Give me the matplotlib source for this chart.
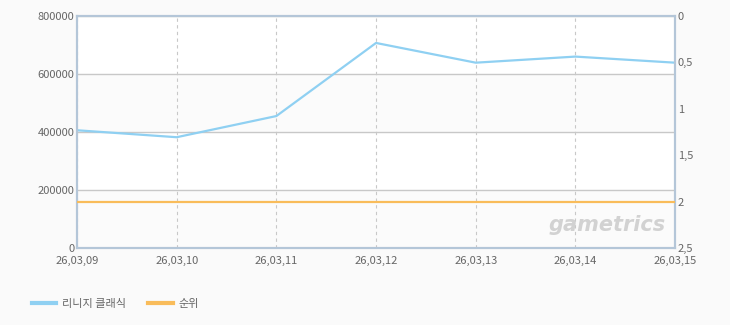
import matplotlib
matplotlib.use("Agg")
import matplotlib.pyplot as plt

dates = ["26,03,09", "26,03,10", "26,03,11", "26,03,12", "26,03,13", "26,03,14", "26,03,15"]
users = [406000, 382000, 455000, 707000, 639000, 660000, 639000]
rank = [2, 2, 2, 2, 2, 2, 2]

left_ticks = [0, 200000, 400000, 600000, 800000]
right_ticks = [0, 0.5, 1, 1.5, 2, 2.5]
right_labels = ["0", "0,5", "1", "1,5", "2", "2,5"]

plt.rcParams["font.family"] = ["Noto Sans CJK KR", "DejaVu Sans"]
plt.rcParams["font.size"] = 8

BG = "#fafafa"
SPINE = "#b4c6d8"
TXT = "#666666"

fig = plt.figure(figsize=(7.3, 3.25), dpi=100, facecolor=BG)
ax = fig.add_axes([0.1055, 0.2369, 0.8192, 0.7139])
ax.set_facecolor("white")
x = list(range(len(dates)))

# alternating bands
for i in range(len(left_ticks) - 1):
    if i % 2 == 0:
        ax.axhspan(left_ticks[i], left_ticks[i + 1], color="#fbfbfb", zorder=0)

ax.set_xlim(0, len(dates) - 1)
ax.set_ylim(0, 800000)
ax.set_yticks(left_ticks)
ax.set_yticklabels([str(v) for v in left_ticks])
ax.set_xticks(x)
ax.set_xticklabels(dates)
ax.grid(axis="y", color="#c8c8c8", linewidth=1, zorder=1)
ax.grid(axis="x", color="#c8c8c8", linewidth=0.8, linestyle=(0, (3, 3)), zorder=1)
ax.tick_params(axis="y", length=0, colors=TXT, labelsize=8, pad=2)
ax.tick_params(axis="x", length=0, colors=TXT, labelsize=8, pad=6)

ax.plot(x, users, color="#8fd0f2", linewidth=1.6, zorder=3, label="리니지 클래식")

ax2 = ax.twinx()
ax2.set_ylim(2.5, 0)
ax2.set_yticks(right_ticks)
ax2.set_yticklabels(right_labels)
ax2.tick_params(length=0, colors=TXT, labelsize=8, pad=2)
ax2.plot(x, rank, color="#f9bc5a", linewidth=1.6, zorder=3, label="순위")

for a in (ax, ax2):
    for s in a.spines.values():
        s.set_color(SPINE)
        s.set_linewidth(1.5)

ax.text(0.985, 0.055, "gametrics", transform=ax.transAxes, ha="right", va="bottom",
        fontsize=15, fontstyle="italic", fontweight="bold", color="#d2d2d2",
        family="DejaVu Sans", zorder=2)

h1, l1 = ax.get_legend_handles_labels()
h2, l2 = ax2.get_legend_handles_labels()
leg = fig.legend(h1 + h2, l1 + l2, loc="lower left", bbox_to_anchor=(0.03, 0.02),
                 ncol=2, frameon=False, handlelength=2.2, columnspacing=2.0,
                 handletextpad=0.5, fontsize=8)
for t in leg.get_texts():
    t.set_color(TXT)
for line in leg.get_lines():
    line.set_linewidth(3)

fig.savefig("out.png", dpi=100, facecolor=BG)
